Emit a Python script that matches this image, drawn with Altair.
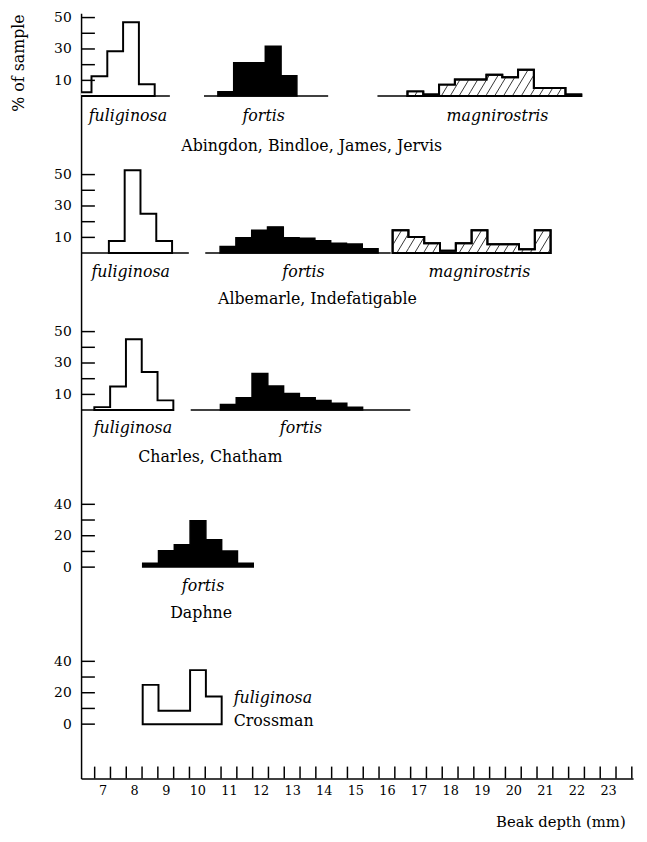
import math
import altair as alt
import pandas as pd

# ---------------- data ----------------
# x-axis labels, beak depth (mm)
x_labels = list(range(7, 24))

# islands, top to bottom, and vertical stacking offset of each panel (percent units)
islands = ["Abingdon, Bindloe, James, Jervis", "Albemarle, Indefatigable",
           "Charles, Chatham", "Daphne", "Crossman"]
panel_offset = [400, 300, 200, 100, 0]

# y tick marks / labels per panel (percent of sample)
y_minor_ticks = [[10, 20, 30, 40, 50], [10, 20, 30, 40, 50], [10, 20, 30, 40, 50],
                 [0, 10, 20, 30, 40], [0, 10, 20, 30, 40]]
y_tick_labels = [[10, 30, 50], [10, 30, 50], [10, 30, 50], [0, 20, 40], [0, 20, 40]]

BIN = 0.5  # histogram class width (mm)

# histograms: first class start (mm), % of sample per class
fulig_abingdon_start = 6.15
fulig_abingdon = [2.5, 12.6, 28.6, 47.0, 7.6]
fortis_abingdon_start = 10.65
fortis_abingdon = [2.7, 21.3, 21.3, 31.8, 13.0]
magn_abingdon_start = 16.65
magn_abingdon = [3.0, 1.0, 7.3, 10.5, 10.5, 13.6, 12.0, 16.8, 5.2, 5.2, 1.0]

fulig_albemarle_start = 7.2
fulig_albemarle = [7.7, 52.7, 25.0, 7.7]
fortis_albemarle_start = 10.72
fortis_albemarle = [4.2, 9.8, 14.6, 16.7, 9.8, 9.4, 7.9, 6.2, 5.8, 2.7]
magn_albemarle_start = 16.18
magn_albemarle = [14.6, 10.2, 6.2, 1.5, 6.2, 14.6, 5.6, 5.6, 2.5, 14.6]

fulig_charles_start = 6.74
fulig_charles = [1.9, 15.1, 45.1, 24.3, 6.2]
fortis_charles_start = 10.73
fortis_charles = [3.6, 7.9, 23.4, 15.3, 10.6, 7.9, 6.2, 4.3, 1.9]

fortis_daphne_start = 8.27
fortis_daphne = [2.5, 10.5, 14.3, 29.5, 17.5, 10.3, 2.5]

fulig_crossman_start = 8.27
fulig_crossman = [25.0, 8.5, 8.5, 34.4, 17.6]

histograms = [
    (0, "fuliginosa", fulig_abingdon_start, fulig_abingdon),
    (0, "fortis", fortis_abingdon_start, fortis_abingdon),
    (0, "magnirostris", magn_abingdon_start, magn_abingdon),
    (1, "fuliginosa", fulig_albemarle_start, fulig_albemarle),
    (1, "fortis", fortis_albemarle_start, fortis_albemarle),
    (1, "magnirostris", magn_albemarle_start, magn_albemarle),
    (2, "fuliginosa", fulig_charles_start, fulig_charles),
    (2, "fortis", fortis_charles_start, fortis_charles),
    (3, "fortis", fortis_daphne_start, fortis_daphne),
    (4, "fuliginosa", fulig_crossman_start, fulig_crossman),
]

# baseline extent of each sample (mm)
baselines = [
    (0, 6.32, 9.13), (0, 10.21, 14.14), (0, 15.7, 22.1),
    (1, 6.32, 9.73), (1, 10.25, 16.12),
    (2, 6.32, 9.19), (2, 9.79, 16.74),
]

# text annotations: (panel, x mm, offset from baseline in %, text, italic, align)
annotations = [
    (0, 7.8, -13, "fuliginosa", True, "center"),
    (0, 12.1, -13, "fortis", True, "center"),
    (0, 19.5, -12.5, "magnirostris", True, "center"),
    (0, 13.62, -32, islands[0], False, "center"),
    (1, 7.89, -12, "fuliginosa", True, "center"),
    (1, 13.36, -12, "fortis", True, "center"),
    (1, 18.93, -12, "magnirostris", True, "center"),
    (1, 13.8, -29.5, islands[1], False, "center"),
    (2, 7.96, -11.5, "fuliginosa", True, "center"),
    (2, 13.28, -11.5, "fortis", True, "center"),
    (2, 10.41, -30, islands[2], False, "center"),
    (3, 10.18, -12, "fortis", True, "center"),
    (3, 10.12, -29, islands[3], False, "center"),
    (4, 11.15, 16.4, "fuliginosa", True, "left"),
    (4, 11.15, 2.1, islands[4], False, "left"),
]

# ---------------- build tables ----------------
area_rows = []
for p, sp, start, vals in histograms:
    base = panel_offset[p]
    key = f"{p}-{sp}"
    for i, v in enumerate(vals):
        area_rows.append(dict(key=key, species=sp, x=start + i * BIN, top=base + v, base=base))
    area_rows.append(dict(key=key, species=sp, x=start + len(vals) * BIN, top=base, base=base))
area_df = pd.DataFrame(area_rows)

# diagonal hatching for magnirostris classes (pattern derived from class boxes)
PX_MM, PX_PCT = 32.0, 1.59
hatch_gap = 9.0 / PX_MM
hatch_slope = 0.6 * PX_PCT / PX_MM
hatch_rows = []
for p, sp, start, vals in histograms:
    if sp != "magnirostris":
        continue
    base = panel_offset[p]
    for i, h in enumerate(vals):
        x0, x1 = start + i * BIN, start + (i + 1) * BIN
        k0 = math.floor((x0 - hatch_slope * h) / hatch_gap)
        k1 = math.ceil(x1 / hatch_gap)
        for k in range(k0, k1 + 1):
            c = k * hatch_gap
            ylo = max(0.0, (x0 - c) / hatch_slope)
            yhi = min(h, (x1 - c) / hatch_slope)
            if yhi - ylo > 0.3:
                hatch_rows.append(dict(x=c + hatch_slope * ylo, y=base + ylo,
                                       x2=c + hatch_slope * yhi, y2=base + yhi))
hatch_df = pd.DataFrame(hatch_rows)

base_df = pd.DataFrame([dict(x=a, x2=b, y=panel_offset[p]) for p, a, b in baselines])

ytick_df = pd.DataFrame([dict(y=panel_offset[p] + t) for p in range(5) for t in y_minor_ticks[p]])
ylabel_values = [panel_offset[p] + t for p in range(5) for t in y_tick_labels[p]]

xtick_df = pd.DataFrame([dict(x=v) for n in x_labels for v in (n - 0.25, n + 0.25)]
                        + [dict(x=x_labels[-1] + 0.75)])

ann_df = pd.DataFrame([dict(x=x, y=panel_offset[p] + dy, label=t, italic=it, anchor=al)
                       for p, x, dy, t, it, al in annotations])

# ---------------- scales / axes ----------------
W, H = 559, 775
FONT = "DejaVu Serif"
xscale = alt.Scale(domain=[6.32, 23.79], nice=False, zero=False)
yscale = alt.Scale(domain=[-34.6, 452.8], nice=False, zero=False)

xaxis = alt.Axis(values=x_labels, ticks=False, grid=False, domain=True, domainColor="black",
                 domainWidth=1.5, labelFont=FONT, labelFontSize=13, labelColor="black",
                 labelPadding=6, labelFlush=False, labelOverlap=False, format="d",
                 title="Beak depth (mm)", titleFont=FONT, titleFontSize=15,
                 titleFontWeight="normal", titleColor="black", titleX=551, titleY=49,
                 titleAlign="right", titleBaseline="alphabetic")
yaxis = alt.Axis(values=ylabel_values, labelExpr="'' + (datum.value % 100)", ticks=False,
                 grid=False, domain=True, domainColor="black", domainWidth=1.5,
                 labelFont=FONT, labelFontSize=14, labelColor="black", labelPadding=10,
                 labelFlush=False, labelOverlap=False,
                 title="% of sample", titleFont=FONT, titleFontSize=16,
                 titleFontWeight="normal", titleColor="black", titleAngle=-90,
                 titleX=-63, titleY=50, titleAlign="center", titleBaseline="middle")


def X(f):
    return alt.X(f, type="quantitative", scale=xscale, axis=xaxis)


def Y(f):
    return alt.Y(f, type="quantitative", scale=yscale, axis=yaxis)


layers = []
# sample baselines
layers.append(alt.Chart(base_df).mark_rule(color="black", strokeWidth=1.5).encode(
    x=X("x"), x2="x2", y=Y("y")))
# fortis: solid black
layers.append(alt.Chart(area_df).transform_filter(alt.datum.species == "fortis").mark_area(
    interpolate="step-after", fill="black", stroke="black", strokeWidth=1.5, clip=True).encode(
    x=X("x"), y=Y("top"), y2="base", detail="key:N"))
# fuliginosa: open outline
layers.append(alt.Chart(area_df).transform_filter(alt.datum.species == "fuliginosa").mark_area(
    interpolate="step-after", fill="white", stroke="black", strokeWidth=2, clip=True).encode(
    x=X("x"), y=Y("top"), y2="base", detail="key:N"))
# magnirostris: hatched
layers.append(alt.Chart(area_df).transform_filter(alt.datum.species == "magnirostris").mark_area(
    interpolate="step-after", fill="white", stroke="black", strokeWidth=2, clip=True).encode(
    x=X("x"), y=Y("top"), y2="base", detail="key:N"))
layers.append(alt.Chart(hatch_df).mark_rule(color="#333333", strokeWidth=1).encode(
    x=X("x"), y=Y("y"), x2="x2", y2="y2"))
layers.append(alt.Chart(area_df).transform_filter(alt.datum.species == "magnirostris").mark_area(
    interpolate="step-after", fill="transparent", fillOpacity=0, stroke="black", strokeWidth=2,
    clip=True).encode(x=X("x"), y=Y("top"), y2="base", detail="key:N"))
# inward y ticks
layers.append(alt.Chart(ytick_df).mark_rule(color="black", strokeWidth=1.5).encode(
    y=Y("y"), x=alt.value(0), x2=alt.value(14)))
# inward x ticks
layers.append(alt.Chart(xtick_df).mark_rule(color="black", strokeWidth=1.5).encode(
    x=X("x"), y=alt.value(H - 12), y2=alt.value(H)))
# annotations
for italic in (True, False):
    for al in ("center", "left"):
        sub = ann_df[(ann_df["italic"] == italic) & (ann_df["anchor"] == al)]
        if len(sub) == 0:
            continue
        layers.append(alt.Chart(sub).mark_text(
            font=FONT, fontSize=16, fontStyle="italic" if italic else "normal",
            color="black", align=al, baseline="middle").encode(
            x=X("x"), y=Y("y"), text="label:N"))

chart = alt.layer(*layers).properties(
    width=W, height=H, autosize="none",
    padding={"left": 74, "top": 0, "right": 6, "bottom": 51},
    background="white",
).configure_view(stroke=None)

chart.save("out.html", embed_options={"renderer": "svg", "actions": False})
